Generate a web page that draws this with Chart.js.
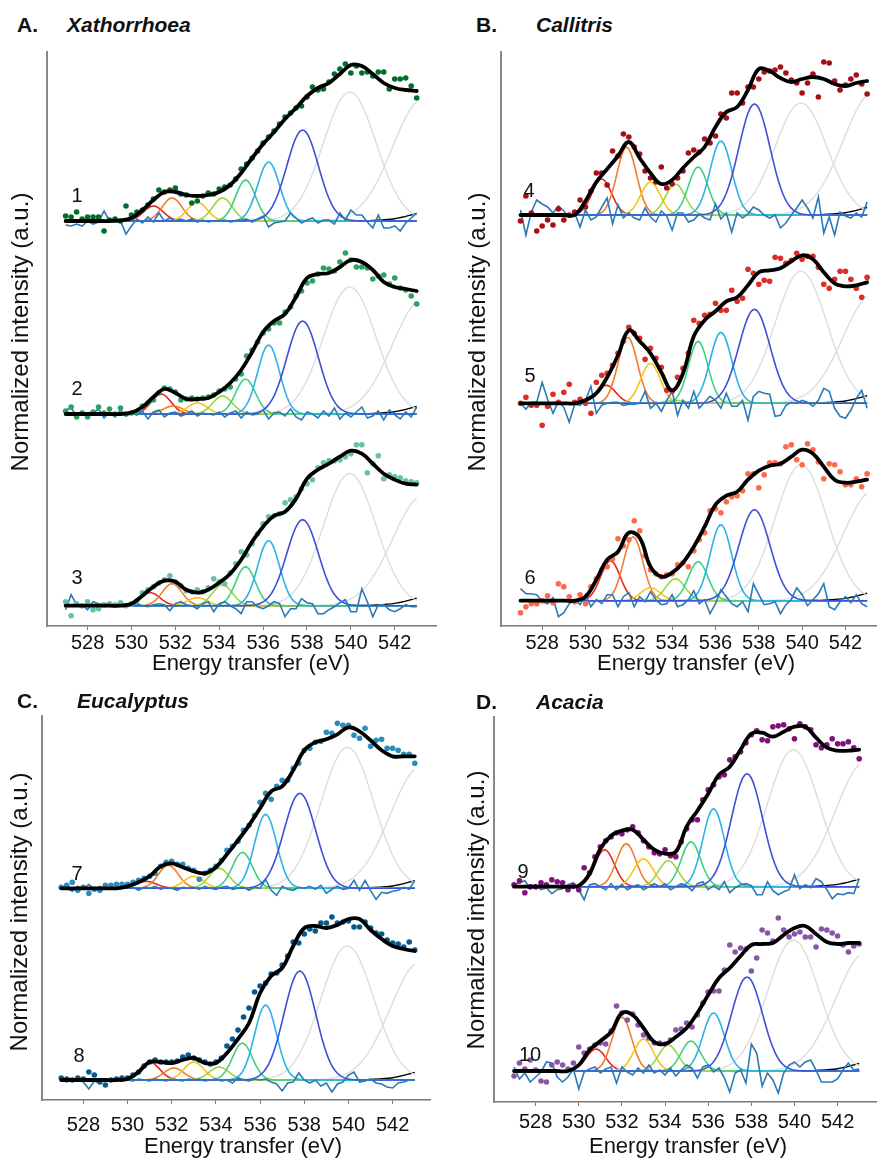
<!DOCTYPE html>
<html>
<head>
<meta charset="utf-8">
<title>O K-edge fits</title>
<script src="https://cdn.jsdelivr.net/npm/chart.js@4.4.1/dist/chart.umd.min.js"></script>
<style>
  body { margin: 0; background: #fff; font-family: "Liberation Sans", Arial, sans-serif; }
  #page { position: relative; width: 880px; height: 1160px; overflow: hidden; background: #fff; }
  canvas { position: absolute; }
  .txt { position: absolute; line-height: 1; white-space: nowrap; color: #111; }
  .letter { font-size: 21px; font-weight: bold; }
  .genus { font-size: 21px; font-weight: bold; font-style: italic; }
  .xtitle { font-size: 22px; transform: translateX(-50%); }
  .ytitle { font-size: 24px; transform: translate(-50%, -50%) rotate(-90deg); }
  .num { font-size: 20px; transform: translate(-50%, -50%); }
</style>
</head>
<body>
<div id="page">
  <canvas id="chartA"></canvas>
  <canvas id="chartB"></canvas>
  <canvas id="chartC"></canvas>
  <canvas id="chartD"></canvas>

  <div class="txt letter" style="left:17px;top:14px">A.</div>
  <div class="txt genus" style="left:67px;top:14px">Xathorrhoea</div>
  <div class="txt letter" style="left:476px;top:14px">B.</div>
  <div class="txt genus" style="left:536px;top:14px">Callitris</div>
  <div class="txt letter" style="left:17px;top:690px">C.</div>
  <div class="txt genus" style="left:77px;top:690px">Eucalyptus</div>
  <div class="txt letter" style="left:476px;top:691px">D.</div>
  <div class="txt genus" style="left:536px;top:691px">Acacia</div>

  <div class="txt xtitle" style="left:251px;top:652px">Energy transfer (eV)</div>
  <div class="txt xtitle" style="left:696px;top:652px">Energy transfer (eV)</div>
  <div class="txt xtitle" style="left:243px;top:1135px">Energy transfer (eV)</div>
  <div class="txt xtitle" style="left:688px;top:1135px">Energy transfer (eV)</div>

  <div class="txt ytitle" style="left:20px;top:332px">Normalized intensity (a.u.)</div>
  <div class="txt ytitle" style="left:477px;top:332px">Normalized intensity (a.u.)</div>
  <div class="txt ytitle" style="left:19px;top:912px">Normalized intensity (a.u.)</div>
  <div class="txt ytitle" style="left:476px;top:910px">Normalized intensity (a.u.)</div>

  <div class="txt num" style="left:77px;top:195px">1</div>
  <div class="txt num" style="left:77px;top:388px">2</div>
  <div class="txt num" style="left:77px;top:577px">3</div>
  <div class="txt num" style="left:529px;top:190px">4</div>
  <div class="txt num" style="left:530px;top:375px">5</div>
  <div class="txt num" style="left:530px;top:577px">6</div>
  <div class="txt num" style="left:77px;top:873px">7</div>
  <div class="txt num" style="left:79px;top:1055px">8</div>
  <div class="txt num" style="left:523px;top:871px">9</div>
  <div class="txt num" style="left:530px;top:1054px">10</div>
</div>

<script>
'use strict';

// energy grids (eV)
const energyStart = 527;
const dataStep = 0.25;   // measured points and residual
const fitStep = 0.5;     // fit envelope
const tickValues = [528, 530, 532, 534, 536, 538, 540, 542];

// fitted components: red, orange, yellow, yellow-green, green, light blue, blue, gray, gray
const peakCenters = [530.9, 531.9, 533.0, 534.15, 535.2, 536.25, 537.8, 539.95, 543.3];
const peakWidths = [0.45, 0.45, 0.45, 0.45, 0.45, 0.5, 0.72, 1.2, 1.4];
const peakColors = ['#e8281e', '#f07d2c', '#f5c51c', '#9bd640', '#3fd083', '#2bb3e6', '#3d4fd6', '#dddddd', '#dddddd'];

// red and orange peak positions move a little from sample to sample
const redCenters = [531.0, 531.35, 530.85, 530.75, 530.95, 531.15, 530.85, 531.0, 531.2, 530.8];
const orangeCenters = [531.85, 531.9, 531.85, 531.9, 531.95, 532.2, 531.85, 532.1, 532.2, 532.0];

// background tail, 1 eV steps from 527
const baselineTail = [0, 0, 0, 0, 0, 0, 0, 0, 0, 0, 0, 0, 0, 0.1, 0.6, 2.3, 7.5];

// ---- spectrum 1 (Xathorrhoea)
const s1Fit = [0,0,0,0,0,0.5,3,11,21,29,29,26,25,26,29,36,48,63,77,89,102,113,125,133,138,147,156,155,147,138,133,131,130];
const s1Data = [5,4,9,2,4,4,4,-10,1,2,0,15,6,9,11,16,22,31,29,31,33,27,26,18,20,25,28,27,32,34,36,42,52,57,63,70,78,84,90,97,104,108,113,115,124,134,131,132,139,147,152,157,148,155,148,149,145,149,149,132,142,142,143,135,123];
const s1Resid = [-4,-5,-3,-5,0,-3,-1,10,0,2,0,-13,-5,2,-2,4,-1,8,0,3,0,2,0,2,-1,1,-1,0,0,1,-1,0,1,2,-1,2,5,-6,-2,-1,0,8,3,-2,1,3,-2,1,1,-3,8,1,11,6,6,-1,-7,6,-7,-7,-5,-10,-2,3,8];
const s1Peaks = [15,23,19,23,41,59,91,129,122];

// ---- spectrum 2
const s2Fit = [0,0,0,0,0,0,1.5,7,17,25,21,15,15,16,22,31,44,62,82,93,100,117,136,140,141,147,154,152,144,132,127,125,123];
const s2Data = [3,7,-3,1,-3,2,7,1,5,0,6,0,1,2,8,11,14,21,26,25,22,14,15,16,15,16,17,19,23,25,27,35,40,58,64,72,81,85,91,91,102,107,118,123,131,133,140,146,145,143,152,161,154,147,147,146,135,138,139,130,136,126,124,118,110];
const s2Resid = [4,6,-2,3,-3,1,5,-4,2,-3,4,-2,1,-1,3,-5,2,4,-3,1,2,-2,0,3,-2,1,0,-1,2,-3,1,3,-4,2,-1,0,4,-5,1,2,-2,5,-3,-6,2,0,-4,3,-2,6,-5,1,-3,2,7,-4,-2,3,-6,4,-1,-5,2,-3,7];
const s2Peaks = [20,8,11,18,35,69,93,127,115];

// ---- spectrum 3
const s3Fit = [0,0,0,0,0,0,2,10,19,25,24,16,13,16,23,32,46,64,79,90,94,107,127,136,142,149,155,152,142,132,126,122,121];
const s3Data = [4,-10,2,0,4,-4,-3,1,2,1,3,0,2,5,13,16,19,23,26,30,24,20,15,14,16,14,18,27,24,22,33,42,54,51,62,72,82,89,90,92,103,106,109,117,122,126,138,143,145,145,146,149,152,161,161,133,142,150,127,131,129,128,125,124,123];
const s3Resid = [-4,11,1,1,-4,4,2,1,2,2,2,-1,1,2,0,-1,1,2,1,-5,2,4,1,0,-3,2,4,-6,2,4,0,-3,-8,4,4,-1,-3,0,4,2,-11,-3,-3,7,3,2,-8,-8,-4,-1,3,6,-6,-6,17,4,-11,1,1,-4,-6,-3,1,-1,-1];
const s3Peaks = [13,22,8,21,39,65,86,132,110];

// ---- spectrum 4 (Callitris)
const s4Fit = [0,0,0,0,0,0,14,33,46,59,73,57,42,31,35,47,58,68,88,103,108,125,146,144,137,133,136,138,136,131,129,132,134];
const s4Data = [-6,19,2,-16,-11,-5,-10,6,-5,0,3,15,8,24,42,42,30,64,59,81,78,68,61,44,37,33,48,27,31,37,44,62,65,63,76,72,79,101,97,122,122,112,128,128,136,143,144,145,148,142,135,132,122,132,141,118,153,152,134,125,130,136,140,131,121];
const s4Resid = [5,-20,3,15,11,8,2,9,4,-2,2,-12,5,-5,-2,8,17,-9,10,-3,2,-3,-5,7,-2,-7,4,-1,-15,2,2,-7,-5,1,-3,-5,11,-4,2,-17,2,-3,1,8,5,0,-3,0,-13,-8,0,7,15,7,-3,18,-18,-2,-20,3,-1,-3,2,-2,13];
const s4Peaks = [36,68,33,31,48,74,111,112,123];

// ---- spectrum 5
const s5Fit = [0,0,0,0,0,0,3,10,26,48,73,62,50,31,13,30,67,83,92,102,106,118,131,133,135,142,148,144,131,120,117,118,121];
const s5Data = [0,6,-2,-2,-22,-3,9,1,11,19,1,4,0,-10,21,28,30,38,50,62,76,70,65,44,55,45,36,13,12,26,35,50,83,80,88,89,100,93,93,113,102,105,134,130,119,123,122,146,145,140,143,150,144,147,147,136,119,115,124,132,132,124,115,106,126];
const s5Resid = [0,-6,1,1,21,4,-10,2,-4,-19,-1,-2,3,17,-10,-2,0,1,1,-2,-1,-1,0,12,-5,0,-8,3,12,-12,3,-5,12,-5,1,7,3,-5,10,-3,-3,3,-17,7,12,10,9,-13,-12,-2,1,0,3,1,-3,3,15,12,-5,-13,-15,-7,5,13,-5];
const s5Peaks = [18,66,40,3,62,71,94,132,110];

// ---- spectrum 6
const s6Fit = [0,0,0,0,0,0,4,21,41,49,68,63,34,24,28,38,54,74,96,105,109,121,130,135,137,144,151,147,134,121,118,119,121];
const s6Data = [-12,-6,-3,-3,0,5,-2,17,14,4,-1,6,-3,14,22,31,34,42,62,55,61,80,70,45,31,27,24,26,27,36,38,34,50,61,68,90,92,88,99,104,105,110,127,127,113,126,138,138,137,154,156,141,136,157,151,139,122,137,136,129,116,116,122,114,127];
const s6Resid = [12,7,7,6,-1,-3,3,-16,-12,-3,1,-4,6,-6,1,-3,6,6,-6,4,8,-6,4,-1,9,1,-4,-3,6,-6,-4,1,10,-3,1,-13,-3,11,4,-3,-6,-1,-11,17,6,-4,-3,-1,-13,-4,1,13,6,-5,1,7,17,-6,-9,-1,4,-2,6,-3,-6];
const s6Peaks = [40,64,13,22,39,76,91,136,110];

// ---- spectrum 7 (Eucalyptus)
const s7Fit = [0,0,0,0,0,0,2,6,12,22,25,21,17,15,21,34,48,63,80,97,102,118,138,146,149,154,161,157,148,138,132,132,132];
const s7Data = [1,3,6,-2,1,-5,-1,-2,3,3,4,4,4,6,8,10,12,15,22,26,27,24,24,20,18,9,15,18,22,28,38,42,47,58,63,73,86,95,89,102,108,108,120,125,138,140,146,147,156,155,165,163,163,153,150,160,142,148,149,140,140,138,134,134,125];
const s7Resid = [0,0,-3,2,-1,4,-1,2,-1,1,-1,2,0,1,-2,1,0,2,-1,1,0,-2,1,0,1,-1,2,0,-1,1,2,-1,0,1,-2,1,0,9,-2,-7,2,-1,-2,1,0,2,-1,3,-5,-1,2,-1,0,8,-2,8,-2,-11,-4,-5,-3,-2,1,-1,8];
const s7Peaks = [7,23,12,20,36,74,95,141,122];

// ---- spectrum 8
const s8Fit = [0,0,0,0,0,0,1,8,18,18,17,20,22,17,17,27,41,57,87,104,112,134,152,154,152,155,161,161,150,141,134,131,129];
const s8Data = [2,1,0,2,1,8,5,-2,-5,0,1,2,2,5,8,14,18,20,18,18,18,19,23,25,22,20,18,16,18,22,34,41,50,63,72,88,94,97,106,107,115,124,138,137,146,151,149,157,157,163,157,158,159,153,153,158,152,147,146,140,137,136,133,138,130];
const s8Resid = [0,-2,1,0,-2,-9,-1,-3,1,-1,0,1,0,-1,1,0,-1,1,0,-1,1,0,-1,1,0,1,-1,0,1,-1,0,-3,2,0,-1,1,0,1,-2,-4,-11,-3,-2,7,0,-3,0,-6,-3,-12,-4,-2,5,8,-2,-1,1,-3,-4,-7,-8,-3,-2,0,0];
const s8Peaks = [18,12,18,13,37,75,109,134,119];

// ---- spectrum 9 (Acacia)
const s9Fit = [0,0,0,0,0,0,1,13,38,51,56,57,47,37,33,35,60,76,93,112,120,137,153,154,150,155,160,160,149,139,136,136,137];
const s9Data = [2,6,-6,0,0,4,2,7,5,4,-3,1,-3,19,14,30,40,46,50,54,53,57,60,54,46,40,34,33,37,31,30,45,58,67,67,87,97,102,110,112,127,130,135,144,152,156,147,146,160,161,162,158,148,163,160,157,142,139,142,148,143,143,145,139,128];
const s9Resid = [2,4,6,-2,2,-3,-1,-7,-3,-2,2,4,-3,-13,2,3,0,-3,3,-3,2,-3,0,2,-3,0,3,0,3,-3,0,3,1,-4,3,5,-3,1,-3,5,-6,-1,2,3,1,-8,-8,5,-4,-8,-5,-3,12,-2,2,-1,8,5,-3,-12,-7,-8,-6,-7,8];
const s9Peaks = [37,43,28,26,45,78,113,137,125];

// ---- spectrum 10
const s10Fit = [0,0,0,0,0,0,6,21,30,39,58,56,43,29,27,34,43,58,76,93,103,115,126,127,128,136,143,145,137,129,127,128,128];
const s10Data = [-5,8,2,11,1,-10,-11,6,9,6,2,8,24,18,22,26,28,27,40,65,58,51,57,46,36,33,28,28,27,31,41,42,48,44,56,68,79,80,80,101,126,119,123,122,100,113,141,138,130,153,141,134,137,139,134,134,124,142,141,138,135,126,119,125,127];
const s10Resid = [4,-8,-2,-11,-6,-1,9,8,-6,-11,-6,2,-18,-1,2,4,-2,2,4,-12,4,-1,-4,3,-2,6,-2,1,-4,3,-5,1,6,3,-7,4,6,-1,3,-7,-21,-2,1,-12,27,18,-15,-2,-9,-22,-2,6,9,4,9,11,1,-11,-11,-11,-8,1,8,1,2];
const s10Peaks = [22,54,32,26,30,58,94,131,118];

const dotColors = ['#006d2c', '#2ca25f', '#66c2a4', '#a50f15', '#de2d26', '#fb6a4a', '#2b8cbe', '#045a8d', '#810f7c', '#8856a7'];

const spectra = [
  {fit: s1Fit, data: s1Data, resid: s1Resid, peaks: s1Peaks},
  {fit: s2Fit, data: s2Data, resid: s2Resid, peaks: s2Peaks},
  {fit: s3Fit, data: s3Data, resid: s3Resid, peaks: s3Peaks},
  {fit: s4Fit, data: s4Data, resid: s4Resid, peaks: s4Peaks},
  {fit: s5Fit, data: s5Data, resid: s5Resid, peaks: s5Peaks},
  {fit: s6Fit, data: s6Data, resid: s6Resid, peaks: s6Peaks},
  {fit: s7Fit, data: s7Data, resid: s7Resid, peaks: s7Peaks},
  {fit: s8Fit, data: s8Data, resid: s8Resid, peaks: s8Peaks},
  {fit: s9Fit, data: s9Data, resid: s9Resid, peaks: s9Peaks},
  {fit: s10Fit, data: s10Data, resid: s10Resid, peaks: s10Peaks}
];

// where each panel sits on the page, and how the spectra are stacked in it
const panels = [
  {id: 'chartA', left: 0, top: 40, width: 440, height: 640,
   area: {left: 47, top: 52, right: 440, bottom: 626}, xMin: 526.15, xMax: 543.88, tickPad: 1,
   members: [0, 1, 2], offsets: [405, 212, 20.3]},
  {id: 'chartB', left: 440, top: 40, width: 440, height: 640,
   area: {left: 501, top: 52, right: 880, bottom: 626}, xMin: 526.1, xMax: 543.41, tickPad: 1,
   members: [3, 4, 5], offsets: [411, 222.7, 25.3]},
  {id: 'chartC', left: 0, top: 700, width: 440, height: 460,
   area: {left: 42, top: 716, right: 430, bottom: 1100}, xMin: 526.13, xMax: 543.69, tickPad: 9,
   members: [6, 7], offsets: [211.7, 20]},
  {id: 'chartD', left: 440, top: 700, width: 440, height: 460,
   area: {left: 494, top: 717, right: 880, bottom: 1102}, xMin: 526.07, xMax: 543.78, tickPad: 4,
   members: [8, 9], offsets: [215.3, 31]}
];

function gauss(h, c, w, e) {
  const d = (e - c) / w;
  return h * Math.exp(-0.5 * d * d);
}

function toPoints(values, step, off) {
  return values.map(function (v, i) {
    return {x: energyStart + i * step, y: v + off};
  });
}

function componentPoints(sp, idx, p, off) {
  let c = peakCenters[p];
  if (p === 0) c = redCenters[idx];
  if (p === 1) c = orangeCenters[idx];
  const pts = [];
  for (let i = 0; i <= 160; i++) {
    const e = energyStart + i * 0.1;
    pts.push({x: e, y: gauss(sp.peaks[p], c, peakWidths[p], e) + off});
  }
  return pts;
}

function buildDatasets(panel) {
  const sets = [];
  panel.members.forEach(function (idx, k) {
    const sp = spectra[idx];
    const off = panel.offsets[k];

    sets.push({data: toPoints(sp.fit, fitStep, off), showLine: true, borderColor: '#000',
      borderWidth: 3.8, pointRadius: 0, tension: 0.4, borderCapStyle: 'round', order: 0});
    sets.push({data: toPoints(sp.data, dataStep, off), showLine: false, pointRadius: 2.8,
      pointBorderWidth: 0, pointBackgroundColor: dotColors[idx], order: 1});
    sets.push({data: toPoints(sp.resid, dataStep, off), showLine: true, borderColor: '#2a7ab8',
      borderWidth: 1.6, pointRadius: 0, tension: 0, order: 2});

    for (let p = 0; p < peakCenters.length; p++) {
      sets.push({data: componentPoints(sp, idx, p, off), showLine: true, borderColor: peakColors[p],
        borderWidth: p > 6 ? 1.4 : 1.6, pointRadius: 0, tension: 0, order: 9 - p + (p > 6 ? 6 : 0)});
    }

    sets.push({data: toPoints(baselineTail, 1, off), showLine: true, borderColor: '#000',
      borderWidth: 1.4, pointRadius: 0, cubicInterpolationMode: 'monotone', order: 20});
  });
  return sets;
}

panels.forEach(function (panel) {
  const canvas = document.getElementById(panel.id);
  canvas.width = panel.width;
  canvas.height = panel.height;
  canvas.style.left = panel.left + 'px';
  canvas.style.top = panel.top + 'px';
  const a = panel.area;

  new Chart(canvas.getContext('2d'), {
    type: 'scatter',
    data: {datasets: buildDatasets(panel)},
    options: {
      responsive: false,
      animation: false,
      devicePixelRatio: 1,
      layout: {padding: {left: 0, top: a.top - panel.top, right: panel.left + panel.width - a.right, bottom: 0}},
      plugins: {legend: {display: false}, tooltip: {enabled: false}},
      scales: {
        x: {
          type: 'linear', min: panel.xMin, max: panel.xMax,
          afterBuildTicks: function (s) { s.ticks = tickValues.map(function (v) { return {value: v}; }); },
          afterFit: function (s) { s.height = panel.top + panel.height - a.bottom; },
          grid: {display: true, drawOnChartArea: false, drawTicks: true, tickLength: 4, color: '#777'},
          border: {display: true, color: '#777', width: 1.5},
          ticks: {font: {size: 20, family: '"Liberation Sans", Arial, sans-serif'}, color: '#111',
            padding: panel.tickPad, maxRotation: 0, autoSkip: false}
        },
        y: {
          min: 0, max: a.bottom - a.top,
          afterFit: function (s) { s.width = a.left - panel.left; },
          grid: {display: false},
          ticks: {display: false},
          border: {display: true, color: '#888', width: 2}
        }
      }
    }
  });
});
</script>
</body>
</html>
